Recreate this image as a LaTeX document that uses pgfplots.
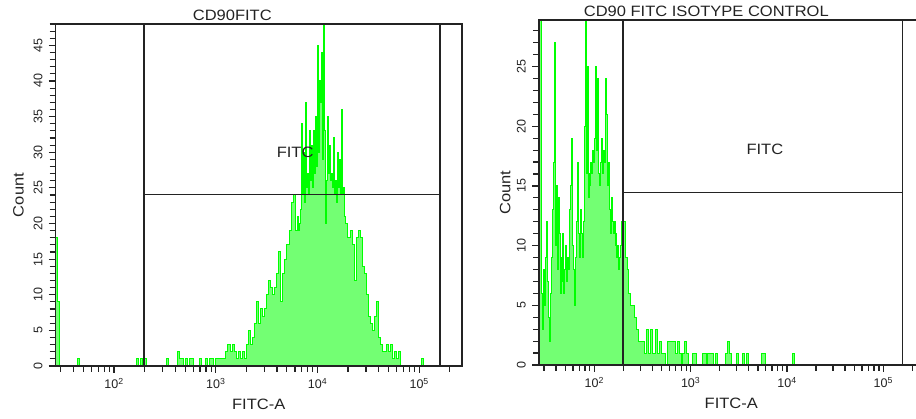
\documentclass[border=0pt]{standalone}
\usepackage{pgfplots}
\pgfplotsset{compat=1.18}
\usepackage{pgfplotstable}
\usepackage{fontspec}
\setmainfont{Liberation Sans}
\newfontfamily\labfont[FakeStretch=1.1]{Liberation Sans}
\definecolor{histline}{RGB}{0,255,0}
\definecolor{histfill}{RGB}{115,255,115}
\definecolor{frame}{RGB}{35,35,35}

\pgfplotstableread{
lx n
1.426 18
1.440 9
1.460 0
1.640 1
1.660 0
2.220 1
2.240 0
2.260 1
2.280 0
2.300 1
2.320 0
2.520 1
2.540 0
2.620 2
2.640 1
2.660 1
2.680 0
2.700 1
2.720 0
2.740 1
2.760 1
2.780 0
2.840 1
2.860 0
2.900 1
2.920 0
2.940 1
2.960 1
2.980 0
3.000 1
3.020 1
3.040 1
3.060 1
3.080 1
3.100 2
3.120 3
3.140 2
3.160 3
3.180 2
3.200 1
3.220 2
3.240 1
3.260 2
3.280 1
3.300 3
3.320 5
3.340 3
3.360 4
3.380 6
3.400 9
3.420 6
3.440 8
3.460 7
3.480 8
3.500 10
3.520 12
3.540 11
3.560 10
3.580 11
3.600 13
3.620 16
3.640 9
3.660 13
3.680 15
3.700 17
3.720 19
3.740 23
3.760 24
3.780 19
3.800 21
3.810 19
3.820 20
3.830 22
3.840 34
3.850 24
3.860 30
3.870 23
3.880 37
3.890 25
3.900 27
3.910 24
3.920 33
3.930 26
3.940 31
3.950 25
3.960 33
3.970 27
3.980 35
3.990 28
4.000 45
4.010 30
4.020 40
4.030 37
4.040 44
4.050 29
4.060 48
4.070 33
4.080 20
4.090 26
4.100 35
4.110 27
4.120 31
4.130 26
4.140 27
4.150 25
4.160 32
4.170 24
4.180 26
4.190 23
4.200 30
4.210 25
4.220 29
4.230 24
4.240 36
4.250 24
4.260 25
4.270 21
4.280 20
4.300 18
4.320 19
4.340 17
4.360 12
4.380 18
4.400 19
4.420 18
4.440 14
4.460 13
4.480 10
4.500 7
4.520 6
4.540 5
4.560 7
4.580 9
4.600 4
4.620 3
4.640 2
4.660 2
4.680 3
4.700 2
4.720 3
4.740 1
4.760 2
4.780 1
4.800 2
4.820 0
5.020 1
5.040 0
5.418 0
}\cdninety

\pgfplotstableread{
lx n
1.426 30
1.455 6
1.465 3
1.475 8
1.485 5
1.495 9
1.505 12
1.515 7
1.525 4
1.535 2
1.545 6
1.555 9
1.565 13
1.575 17
1.585 27
1.595 10
1.605 15
1.615 8
1.625 14
1.635 11
1.645 6
1.655 9
1.665 7
1.675 11
1.685 6
1.695 8
1.705 10
1.715 7
1.725 9
1.735 8
1.745 13
1.755 15
1.765 19
1.775 10
1.785 8
1.795 5
1.805 9
1.815 12
1.825 17
1.835 11
1.845 9
1.855 13
1.865 11
1.875 9
1.885 12
1.895 20
1.905 30
1.915 16
1.925 25
1.935 14
1.945 16
1.955 15
1.965 17
1.975 16
1.985 18
1.995 17
2.005 19
2.015 25
2.025 18
2.035 24
2.045 16
2.055 15
2.065 17
2.075 19
2.085 16
2.095 18
2.105 17
2.115 24
2.125 21
2.135 15
2.145 17
2.155 13
2.165 11
2.175 14
2.185 12
2.195 11
2.205 12
2.215 10
2.225 11
2.235 9
2.245 10
2.255 8
2.265 9
2.275 10
2.285 12
2.295 9
2.305 12
2.320 9
2.340 8
2.360 6
2.380 5
2.400 5
2.420 4
2.440 3
2.460 2
2.480 2
2.500 2
2.520 1
2.540 3
2.560 1
2.580 3
2.600 1
2.620 1
2.640 3
2.660 1
2.680 2
2.700 1
2.720 1
2.740 0
2.760 2
2.780 2
2.800 2
2.820 2
2.840 1
2.860 2
2.880 1
2.900 0
2.920 1
2.940 2
2.960 1
2.980 0
3.020 1
3.040 1
3.060 0
3.120 1
3.140 1
3.160 0
3.180 1
3.200 1
3.220 1
3.240 0
3.260 1
3.280 0
3.360 1
3.380 2
3.400 1
3.420 0
3.480 1
3.500 0
3.540 1
3.560 0
3.580 1
3.600 0
3.740 1
3.760 1
3.780 0
4.060 1
4.080 0
5.418 0
}\isotype

\pgfplotsset{
  fcs/.style={
    scale only axis, axis on top,
    xmin=1.426, xmax=5.418, ymin=0,
    axis line style={frame, line width=1.6pt},
    tick align=outside, xtick pos=bottom, ytick pos=left,
    xtick={2,3,4,5},
    xticklabels={10\textsuperscript{2},10\textsuperscript{3},10\textsuperscript{4},10\textsuperscript{5}},
    minor xtick={1.4771,1.6021,1.6990,1.7782,1.8451,1.9031,1.9542,
      2.3010,2.4771,2.6021,2.6990,2.7782,2.8451,2.9031,2.9542,
      3.3010,3.4771,3.6021,3.6990,3.7782,3.8451,3.9031,3.9542,
      4.3010,4.4771,4.6021,4.6990,4.7782,4.8451,4.9031,4.9542,5.3010},
    major tick length=7pt, minor tick length=6pt,
    every tick/.style={frame, line width=1.2pt},
    /pgf/number format/assume math mode=true,
    tick label style={font=\fontsize{12.5}{13}\selectfont, text=frame},
    yticklabel style={rotate=90, anchor=south, inner sep=1pt},
    xticklabel style={anchor=north, inner sep=1pt},
    xticklabel shift=4pt, yticklabel shift=5pt,
    xlabel={FITC-A}, ylabel={Count},
    label style={font=\labfont\fontsize{15}{16}\selectfont, text=frame},
    title style={font=\labfont\fontsize{15}{16}\selectfont, text=frame,
      at={(rel axis cs:0.435,1)}, anchor=center, yshift=3pt},
    xlabel style={at={(rel axis cs:0.5,0)}, anchor=center, yshift=-38pt},
    gate/.style={frame, line width=1.5pt},
    hist/.style={const plot, draw=histline, line width=1pt, fill=histfill},
  }
}

\begin{document}
\begin{tikzpicture}
\path[use as bounding box, clip] (0,0) rectangle (916pt,419pt);
\begin{axis}[fcs,
  at={(55.7pt,53pt)}, anchor=south west,
  width=406pt, height=342pt,
  ymax=48,
  ytick={0,5,...,45},
  minor ytick={0,1,...,48},
  title={CD90FITC},
  ylabel style={at={(rel axis cs:-0.0915,0.5)}, anchor=center},
]
\addplot[hist] table[x=lx, y=n] {\cdninety} \closedcycle;
\addplot[gate] coordinates {(2.296,0) (2.296,48)};
\addplot[gate] coordinates {(5.205,0) (5.205,48)};
\addplot[gate] coordinates {(2.296,24.1) (5.205,24.1)};
\node[font=\labfont\fontsize{15}{16}\selectfont, text=frame] at (axis cs:3.78,30) {FITC};
\end{axis}

\begin{axis}[fcs,
  at={(539pt,54pt)}, anchor=south west,
  width=384.6pt, height=345pt,
  ymax=28.9,
  ytick={0,5,...,25},
  minor ytick={0,1,...,28},
  title={CD90 FITC ISOTYPE CONTROL},
  ylabel style={at={(rel axis cs:-0.088,0.5)}, anchor=center},
]
\addplot[hist] table[x=lx, y=n] {\isotype} \closedcycle;
\addplot[gate] coordinates {(2.298,0) (2.298,28.9)};
\addplot[gate] coordinates {(5.200,0) (5.200,28.9)};
\addplot[gate] coordinates {(2.298,14.44) (5.200,14.44)};
\node[font=\labfont\fontsize{15}{16}\selectfont, text=frame] at (axis cs:3.77,18.1) {FITC};
\end{axis}
\end{tikzpicture}
\end{document}
